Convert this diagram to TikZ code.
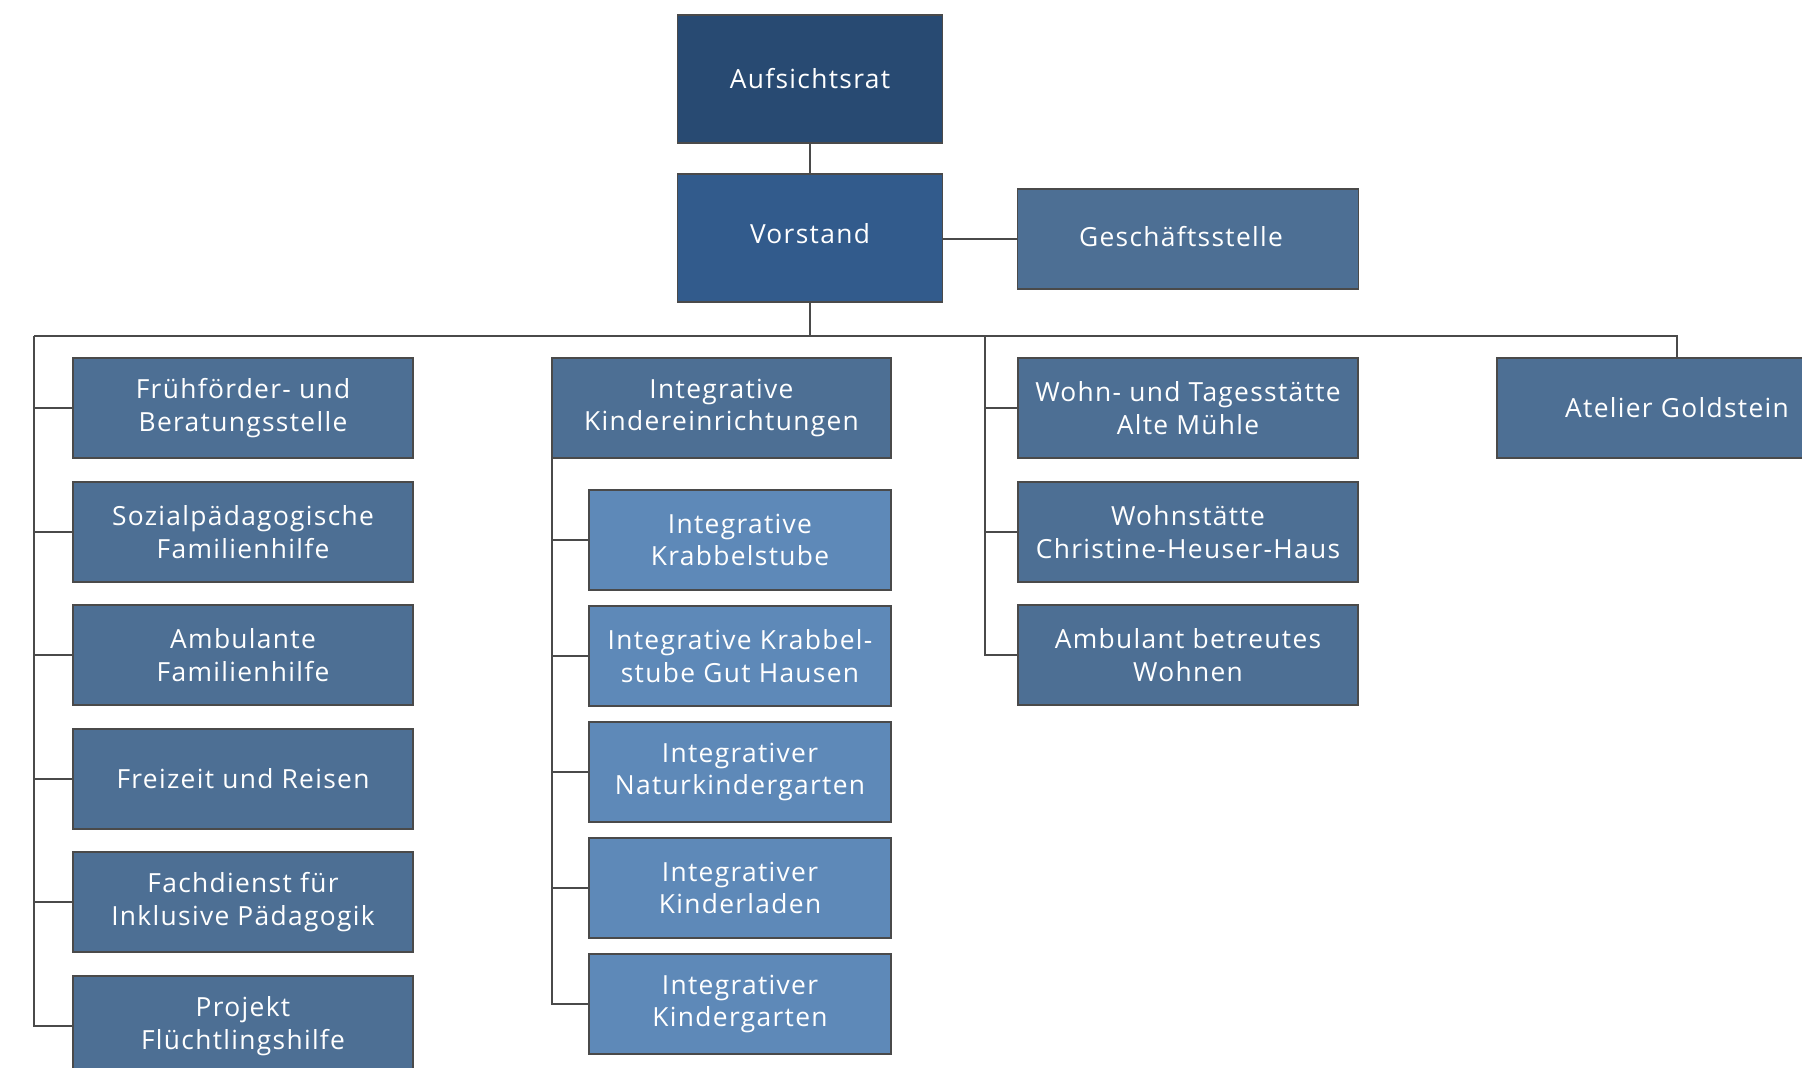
\documentclass[tikz,border=0pt]{standalone}
\usepackage{fontspec}
\newfontfamily\boxfont{Open Sans}[LetterSpace=5]
\definecolor{ratblue}{HTML}{284A72}
\definecolor{vorblue}{HTML}{325B8C}
\definecolor{midblue}{HTML}{4D6F94}
\definecolor{lightblue}{HTML}{5E89B8}
\definecolor{linegray}{HTML}{4A4A4A}
\begin{document}
\begin{tikzpicture}[x=0.02cm, y=-0.02cm,
    box/.style={draw=linegray, line width=0.75pt, fill=midblue, text=white,
      align=center, inner sep=0pt, outer sep=0pt,
      minimum width=6.8cm, minimum height=2cm,
      font=\boxfont\fontsize{15}{18.4}\selectfont},
    subbox/.style={box, fill=lightblue, minimum width=6.04cm},
    link/.style={draw=linegray, line width=1.1pt}]
    \useasboundingbox (0,0) rectangle (1802,1068);

    % Top of the chart
    \node[box, fill=ratblue, minimum width=5.3cm, minimum height=2.56cm] (rat) at (810,79) {Aufsichtsrat};
    \node[box, fill=vorblue, minimum width=5.3cm, minimum height=2.56cm] (vorstand) at (810,238) {\raisebox{5pt}{Vorstand}};
    \node[box, minimum width=6.82cm] (gs) at (1188,239) {\raisebox{3pt}{Geschäftsstelle\hspace{8pt}}};

    % Bus line and its ends
    \coordinate (bus) at (810,336);
    \coordinate (busL) at (34,336);
    \coordinate (busM) at (985,336);
    \coordinate (busR) at (1677,336);

    % Left column
    \node[box] (ff) at (243,408) {Frühförder- und\\Beratungsstelle};
    \node[box] (sf) at (243,532) {Sozialpädagogische\\Familienhilfe};
    \node[box] (af) at (243,655) {Ambulante\\Familienhilfe};
    \node[box] (fr) at (243,779) {Freizeit und Reisen};
    \node[box] (fd) at (243,902) {Fachdienst für\\Inklusive Pädagogik};
    \node[box] (pf) at (243,1026) {Projekt\\Flüchtlingshilfe};

    % Middle column
    \node[box, minimum width=6.78cm] (ik) at (721.5,408) {Integrative\\Kindereinrichtungen};
    \node[subbox] (kb) at (740,540) {Integrative\\Krabbelstube};
    \node[subbox] (gh) at (740,656) {Integrative Krabbel-\\stube Gut Hausen};
    \node[subbox] (nk) at (740,772) {Integrativer\\Naturkindergarten};
    \node[subbox] (kl) at (740,888) {Integrativer\\Kinderladen};
    \node[subbox] (kg) at (740,1004) {Integrativer\\Kindergarten};

    % Right column
    \node[box] (am) at (1188,408) {Wohn- und Tagesstätte\\Alte Mühle};
    \node[box] (ch) at (1188,532) {Wohnstätte\\Christine-Heuser-Haus};
    \node[box] (bw) at (1188,655) {Ambulant betreutes\\Wohnen};
    \node[box, minimum width=7.2cm] (ag) at (1677,408) {Atelier Goldstein};

    % Connectors
    \draw[link] (rat) -- (vorstand);
    \draw[link] (vorstand.east |- gs.west) -- (gs.west);
    \draw[link] (vorstand) -- (bus);
    \draw[link] (busL) -- (busR) -- (ag.north);
    \draw[link] (busL) |- (pf.west);
    \foreach \n in {ff,sf,af,fr,fd} \draw[link] (busL |- \n.west) -- (\n.west);
    \draw[link] (busM) |- (bw.west);
    \foreach \n in {am,ch} \draw[link] (busM |- \n.west) -- (\n.west);
    \draw[link] (ik.south west) |- (kg.west);
    \foreach \n in {kb,gh,nk,kl} \draw[link] (ik.south west |- \n.west) -- (\n.west);
\end{tikzpicture}
\end{document}
